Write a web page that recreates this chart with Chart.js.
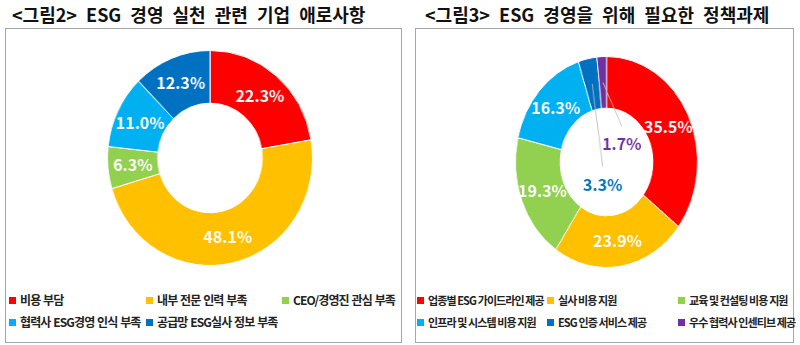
<!DOCTYPE html>
<html>
<head>
<meta charset="utf-8">
<script src="https://cdn.jsdelivr.net/npm/chart.js@4/dist/chart.umd.min.js"></script>
<style>
  body { margin:0; width:800px; height:345px; background:#fff; position:relative; overflow:hidden;
         font-family:"Noto Sans CJK KR","Noto Sans",sans-serif; }
  .title { position:absolute; top:1px; font-size:18px; font-weight:bold; white-space:nowrap; color:#111; word-spacing:5px; }
  .box { position:absolute; top:28px; height:315px; border:1px solid #a6a6a6; box-sizing:border-box; }
  canvas { position:absolute; }
  .item { position:absolute; font-size:11px; font-weight:bold; color:#222; white-space:nowrap; line-height:14px; letter-spacing:-0.9px; }
  .item.wide { font-size:12px; word-spacing:1px; }
  .item i { display:inline-block; width:7px; height:7px; margin-right:4px; vertical-align:1px; }
</style>
</head>
<body>
<div class="title" style="left:12px">&lt;그림2&gt; ESG 경영 실천 관련 기업 애로사항</div>
<div class="title" style="left:425px">&lt;그림3&gt; ESG 경영을 위해 필요한 정책과제</div>
<div class="box" style="left:5px;width:397px"></div>
<div class="box" style="left:415px;width:379px"></div>

<canvas id="leftChart" width="216" height="216" style="left:107px;top:50px;width:206px;height:216px"></canvas>
<canvas id="rightChart" width="212" height="212" style="left:515px;top:56px;width:183px;height:212px"></canvas>

<script>
// 그림2 - 애로사항
const leftLabels = ["비용 부담", "내부 전문 인력 부족", "CEO/경영진 관심 부족", "협력사 ESG경영 인식 부족", "공급망 ESG실사 정보 부족"];
const leftValues = [22.3, 48.1, 6.3, 11.0, 12.3];
const leftColors = ["#ff0000", "#ffc000", "#92d050", "#00b0f0", "#0070c0"];

// 그림3 - 정책과제
const rightLabels = ["업종별 ESG 가이드라인 제공", "실사 비용 지원", "교육 및 컨설팅 비용 지원", "인프라 및 시스템 비용 지원", "ESG 인증 서비스 제공", "우수 협력사 인센티브 제공"];
const rightValues = [35.5, 23.9, 19.3, 16.3, 3.3, 1.7];
const rightColors = ["#ff0000", "#ffc000", "#92d050", "#00b0f0", "#0070c0", "#7030a0"];

// small slices get their label inside the hole, with a leader line
// offsets are fractions of the inner radius
const rightInside = { 4: [-0.08, 0.42], 5: [0.33, -0.33] };

const sliceLabels = {
  id: 'sliceLabels',
  afterDatasetsDraw(chart, args, opts) {
    const ctx = chart.ctx;
    const sx = chart.canvas.clientWidth / chart.width;
    const ds = chart.data.datasets[0];
    const meta = chart.getDatasetMeta(0);
    const inside = opts.inside || {};
    ctx.save();
    ctx.font = 'bold 16px "Noto Sans CJK KR", sans-serif';
    ctx.textAlign = 'center';
    ctx.textBaseline = 'middle';
    meta.data.forEach((arc, i) => {
      let p = arc.tooltipPosition();
      let color = '#fff';
      const off = inside[i];
      if (off) {
        const a = (arc.startAngle + arc.endAngle) / 2;
        const r0 = (arc.innerRadius + arc.outerRadius) / 2;
        p = { x: arc.x + off[0] * arc.innerRadius, y: arc.y + off[1] * arc.innerRadius };
        ctx.strokeStyle = '#bfbfbf';
        ctx.lineWidth = 1;
        ctx.beginPath();
        ctx.moveTo(arc.x + Math.cos(a) * r0, arc.y + Math.sin(a) * r0);
        ctx.lineTo(p.x, p.y - 18);
        ctx.stroke();
        color = ds.backgroundColor[i];
      }
      ctx.fillStyle = color;
      ctx.save();
      ctx.translate(p.x, p.y);
      ctx.scale(1 / sx, 1);
      ctx.fillText(ds.data[i].toFixed(1) + '%', 0, 0);
      ctx.restore();
    });
    ctx.restore();
  }
};

function makeDoughnut(id, labels, values, colors, inside) {
  return new Chart(document.getElementById(id), {
    type: 'doughnut',
    data: {
      labels: labels,
      datasets: [{ data: values, backgroundColor: colors, borderColor: '#fff', borderWidth: 1 }]
    },
    options: {
      responsive: false,
      animation: false,
      cutout: '51%',
      layout: { padding: 0 },
      plugins: {
        legend: { display: false },
        tooltip: { enabled: false },
        sliceLabels: { inside: inside }
      }
    },
    plugins: [sliceLabels]
  });
}

makeDoughnut('leftChart', leftLabels, leftValues, leftColors, {});
makeDoughnut('rightChart', rightLabels, rightValues, rightColors, rightInside);

// legends, 3 columns x 2 rows
function makeLegend(labels, colors, colX, cls) {
  const rowY = [293, 315];
  labels.forEach((lab, i) => {
    const d = document.createElement('div');
    d.className = 'item ' + cls;
    d.style.left = colX[i % 3] + 'px';
    d.style.top = rowY[Math.floor(i / 3)] + 'px';
    d.innerHTML = '<i style="background:' + colors[i] + '"></i>' + lab;
    document.body.appendChild(d);
  });
}
makeLegend(leftLabels, leftColors, [9, 146, 282], 'wide');
makeLegend(rightLabels, rightColors, [417, 547, 678], '');
</script>
</body>
</html>
